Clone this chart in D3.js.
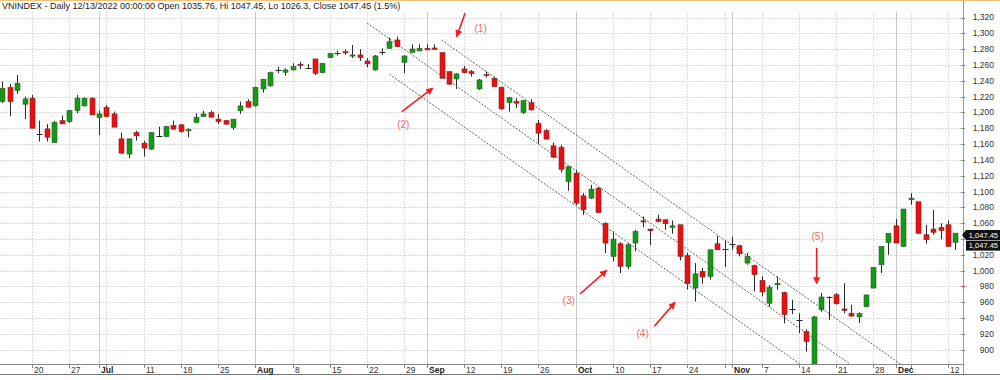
<!DOCTYPE html>
<html><head><meta charset="utf-8">
<script src="https://cdn.jsdelivr.net/npm/d3@7"></script>
<style>body{margin:0;background:#fff}svg{display:block;font-family:"Liberation Sans",Arial,sans-serif}</style>
</head><body><svg id="c" width="1000" height="380"></svg>
<script>
const title = "VNINDEX - Daily 12/13/2022 00:00:00 Open 1035.76, Hi 1047.45, Lo 1026.3, Close 1047.45 (1.5%)";
const dates = [
"06-14","06-15","06-16","06-17","06-20","06-21","06-22","06-23","06-24","06-27","06-28","06-29","06-30",
"07-01","07-04","07-05","07-06","07-07","07-08","07-11","07-12","07-13","07-14","07-15","07-18","07-19","07-20","07-21","07-22","07-25","07-26","07-27","07-28","07-29",
"08-01","08-02","08-03","08-04","08-05","08-08","08-09","08-10","08-11","08-12","08-15","08-16","08-17","08-18","08-19","08-22","08-23","08-24","08-25","08-26","08-29","08-30","08-31",
"09-05","09-06","09-07","09-08","09-09","09-12","09-13","09-14","09-15","09-16","09-19","09-20","09-21","09-22","09-23","09-26","09-27","09-28","09-29","09-30",
"10-03","10-04","10-05","10-06","10-07","10-10","10-11","10-12","10-13","10-14","10-17","10-18","10-19","10-20","10-21","10-24","10-25","10-26","10-27","10-28","10-31",
"11-01","11-02","11-03","11-04","11-07","11-08","11-09","11-10","11-11","11-14","11-15","11-16","11-17","11-18","11-21","11-22","11-23","11-24","11-25","11-28","11-29","11-30",
"12-01","12-02","12-05","12-06","12-07","12-08","12-09","12-12","12-13"];
const open = [1213.7,1231.4,1227.6,1210.4,1218,1173,1179.2,1161.9,1189.7,1188.4,1202.3,1208.3,1218,
1193.5,1206.6,1198.2,1166.6,1147.3,1174.5,1161.2,1153.6,1170.4,1169.5,1183.4,1184.3,1176.7,1187.2,1194.8,1199.8,1191.5,1189.7,1180.9,1202,1213.7,
1208.3,1229.7,1233.5,1253.7,1250.8,1253.7,1260.9,1256.6,1267.6,1250.3,1269.3,1274.8,1276.8,1271.4,1272.7,1265,1253.7,1276.8,1281,1291.6,1263.4,1276,1277.7,
1281,1281.5,1275.6,1251.6,1242.3,1255,1251.6,1229.7,1248,1243.2,1231.9,1212.4,1213.7,1199.8,1212.4,1186.4,1177.1,1157.8,1156.1,1112.6,
1123.3,1094.6,1091.7,1104.3,1060,1017.9,1034,1005.4,1034.9,1063,1052.6,1065.2,1064.3,1054.6,1058,1018.9,978,999,992.7,1034,1027.3,
1033.6,1031.5,1009.6,1006.3,987.7,958.8,982.2,972.2,951.6,937.7,923,875,950.7,966.7,969.6,951.6,946,941.5,954.5,978,1007.5,1035.5,
1056.7,1030.6,1089.6,1087.1,1045.4,1052.6,1054.8,1058,1035.76];
const high = [1239,1236,1247.4,1220,1222,1189.7,1185.2,1189,1196,1203.2,1222.1,1219.2,1219.2,
1202.3,1209.5,1201,1174.5,1166.6,1176.7,1164.4,1175,1182.1,1183,1189.7,1185.2,1180,1199,1202,1202.3,1198.2,1190.6,1191.5,1213.7,1216.7,
1232.3,1242,1251.6,1257.9,1255.9,1262.2,1264.2,1261,1267.6,1262.2,1275.2,1278,1279.9,1285.3,1279.9,1268.5,1272.7,1281,1294.6,1295.8,1272,1286,1286.2,
1286.2,1286,1275.6,1251.6,1249.5,1258.8,1253.7,1242.3,1251.6,1245.3,1232.6,1219.2,1218,1215.8,1216.7,1190.6,1178.8,1161.9,1159,1131.6,
1127.4,1098,1108.5,1105.6,1060.9,1049.6,1036,1034.9,1051.7,1068.5,1052.6,1070.6,1065,1063.4,1058,1022.7,1009.6,1003.3,1026.4,1044.1,1038,
1043,1032.8,1022.3,1007.5,992.7,981.9,992.6,973.5,963.2,946,926,943,971.8,967.6,971.8,984,956.9,947.3,969.3,1004,1030.6,1047.3,
1065.2,1077.9,1097.8,1087.1,1057.6,1076.6,1059.8,1063.4,1047.45];
const low = [1211.7,1195.6,1223.4,1191.8,1180,1163.2,1163.2,1161.5,1185.5,1186.8,1199,1207.4,1196.9,
1171.6,1194,1181.4,1147.7,1142.2,1164.4,1144.2,1152.7,1169.8,1168.7,1178.8,1174.5,1168.7,1186.4,1194.8,1194,1185.2,1184.3,1178,1198.2,1206.6,
1207.4,1225,1232.6,1249.5,1246.5,1252.8,1254.6,1255,1247.4,1249.5,1268.5,1271.8,1272.7,1268.5,1265,1257.1,1252.8,1272.7,1281,1282.4,1249.5,1276,1277.7,
1279,1279.5,1243.2,1234.8,1229.7,1249.5,1245.3,1228.5,1244,1231.9,1203.2,1201,1205.4,1198.2,1202.3,1160.3,1166.2,1142.2,1124,1101,
1083,1070.6,1090.5,1072.8,1022.3,1011.7,997,1002,1024.3,1055,1032.2,1061,1051.7,1046.7,1012.9,976,961,983.5,988.6,1026.4,1004.6,
1026.4,1018,1007.4,973.8,967.6,954.5,975.9,933.3,945,921,897.8,873,948,937.7,956.9,946,941.7,933.9,953.7,977.6,997,1020,
1034.9,1029.8,1083.3,1047.2,1034,1045.4,1039.6,1030.6,1026.3];
const close = [1230.6,1213.7,1236.9,1217.1,1180,1173,1168.7,1187.7,1185.5,1202.3,1218,1218,1196.9,
1198.2,1194.8,1181.4,1148.5,1166.6,1170.4,1154.9,1174.5,1170.4,1182.1,1178.8,1175.8,1178.4,1194,1198.2,1194,1188.4,1185.2,1191.5,1208.3,1206.6,
1231.9,1242,1250.3,1253.7,1253.7,1257.9,1259.1,1256.6,1249.5,1262.2,1274.8,1274.8,1275.6,1272.7,1269.3,1261.3,1271.4,1276.8,1289.4,1283.1,1271.4,1280.2,1281,
1279,1279.8,1243.2,1235.7,1248.7,1250.3,1249,1241.1,1246.5,1232.6,1204.5,1218.7,1211.7,1215,1203.2,1173.8,1166.2,1143.5,1128,1131.6,
1085.4,1077,1103.1,1073.5,1034.9,1039.9,1005.4,1032.8,1049.6,1061.5,1050.4,1062.2,1059.3,1056.7,1018,983.5,996,992,1026.4,1026.4,1027.3,
1033.6,1021.4,1018,995,973,979,984,944.4,951.6,937.7,910.5,941.5,966.7,966.7,958.2,949.5,942.6,945.6,969.3,1004,1030.6,1047.3,
1034.9,1077.9,1091.7,1047.2,1039.1,1048.5,1050.6,1030.6,1047.45];
const yTicks = [900,920,940,960,980,1000,1020,1040,1060,1080,1100,1120,1140,1160,1180,1200,1220,1240,1260,1280,1300,1320];
const weekTickDates = ["06-20","06-27","07-04","07-11","07-18","07-25","08-01","08-08","08-15","08-22","08-29","09-05","09-12","09-19","09-26","10-03","10-10","10-17","10-24","10-31","11-07","11-14","11-21","11-28","12-05","12-12"];
const weekTickLabels = ["20","27","","11","18","25","","8","15","22","29","","12","19","26","","10","17","24","","7","14","21","28","","12"];
const monthTickDates = ["07-01","08-01","09-05","10-03","11-01","12-01"];
const monthTickLabels = ["Jul","Aug","Sep","Oct","Nov","Dec"];
const lastPrice = 1047.45;
const lastPriceLabels = ["1,047.45","1,047.45"];
// channel lines
const channelStartIdx = [59, 49, 52];
const channelStartVal = [1291.6, 1313, 1248.3];
const channelEndIdx = [123, 115, 108];
const channelEndVal = [866.1, 874.2, 876.0];
// annotations
const annoText = ["(1)","(2)","(3)","(4)","(5)"];
const annoLabelIdx = [64.25, 53.86, 76.07, 86.0, 109.5];
const annoLabelVal = [1305.5, 1185.2, 962.7, 920.4, 1043.2];
const arrowFromIdx = [62.15, 53.65, 77.59, 87.57, 109.37];
const arrowFromVal = [1325.3, 1201.1, 970.5, 929.6, 1028.6];
const arrowToIdx = [61.03, 57.81, 81.17, 90.35, 109.37];
const arrowToVal = [1295.8, 1230.6, 1000.3, 959.9, 983.5];

const W = 1000, H = 380, plotR = 963, plotB = 364;
const svg = d3.select("#c");
const x = d3.scalePoint().domain(dates).range([2.2, 955.4]);
const xi = d3.scaleLinear().domain([0, dates.length - 1]).range([2.2, 955.4]);
const y = d3.scaleLinear().domain([882, 1320]).range([plotB, 17.5]);

svg.append("rect").attr("width", W).attr("height", H).attr("fill", "#fff");
svg.append("defs").append("clipPath").attr("id", "clip").append("rect")
  .attr("x", 0).attr("y", 0).attr("width", plotR).attr("height", plotB);
svg.select("defs").append("marker").attr("id", "ah").attr("viewBox", "0 0 10 10")
  .attr("refX", 9).attr("refY", 5).attr("markerWidth", 4.5).attr("markerHeight", 4.5)
  .attr("orient", "auto").append("path").attr("d", "M0,0L10,5L0,10z").attr("fill", "#f41c1c");

// grid
const grid = svg.append("g");
grid.selectAll(".hg").data(yTicks).join("line")
  .attr("x1", 0).attr("x2", plotR).attr("y1", d => Math.round(y(d)) + 0.5).attr("y2", d => Math.round(y(d)) + 0.5)
  .attr("stroke", "#dcdcdc").attr("stroke-dasharray", "2,1");
grid.selectAll(".wg").data(weekTickDates).join("line")
  .attr("x1", d => Math.round(x(d)) + 0.5).attr("x2", d => Math.round(x(d)) + 0.5)
  .attr("y1", 12).attr("y2", plotB)
  .attr("stroke", "#dedede").attr("stroke-dasharray", "2,1");
grid.selectAll(".mg").data(monthTickDates).join("line")
  .attr("x1", d => Math.round(x(d)) + 0.5).attr("x2", d => Math.round(x(d)) + 0.5)
  .attr("y1", 12).attr("y2", plotB)
  .attr("stroke", "#c8c8c8");

// title
svg.append("text").attr("x", 2).attr("y", 9).attr("font-size", 9).attr("fill", "#222").text(title);

// candles
const plot = svg.append("g").attr("clip-path", "url(#clip)");
const idx = d3.range(dates.length);
plot.selectAll(".wick").data(idx).join("line")
  .attr("x1", i => Math.round(x(dates[i])) + 0.5).attr("x2", i => Math.round(x(dates[i])) + 0.5)
  .attr("y1", i => y(high[i])).attr("y2", i => y(low[i]))
  .attr("stroke", "#2a2a2a").attr("stroke-width", 1);
plot.selectAll(".body").data(idx.filter(i => open[i] !== close[i])).join("rect")
  .attr("x", i => Math.round(x(dates[i])) - 2)
  .attr("width", 5)
  .attr("y", i => y(Math.max(open[i], close[i])))
  .attr("height", i => Math.max(1.2, Math.abs(y(open[i]) - y(close[i]))))
  .attr("fill", i => close[i] > open[i] ? "#129a12" : "#f20d0d")
  .attr("stroke", i => close[i] > open[i] ? "#2f5f2f" : "#7a2a2a")
  .attr("stroke-width", 0.6);
plot.selectAll(".doji").data(idx.filter(i => open[i] === close[i])).join("line")
  .attr("x1", i => Math.round(x(dates[i])) - 2.5).attr("x2", i => Math.round(x(dates[i])) + 3.5)
  .attr("y1", i => Math.round(y(open[i])) + 0.5).attr("y2", i => Math.round(y(open[i])) + 0.5)
  .attr("stroke", "#222").attr("stroke-width", 1);

// channel lines
plot.selectAll(".ch").data(channelStartIdx).join("line")
  .attr("x1", (d, k) => xi(channelStartIdx[k])).attr("y1", (d, k) => y(channelStartVal[k]))
  .attr("x2", (d, k) => xi(channelEndIdx[k])).attr("y2", (d, k) => y(channelEndVal[k]))
  .attr("stroke", "#555").attr("stroke-width", 0.9).attr("stroke-dasharray", "2,1.5");

// annotations
svg.selectAll(".arr").data(arrowFromIdx).join("line")
  .attr("x1", (d, k) => xi(arrowFromIdx[k])).attr("y1", (d, k) => y(arrowFromVal[k]))
  .attr("x2", (d, k) => xi(arrowToIdx[k])).attr("y2", (d, k) => y(arrowToVal[k]))
  .attr("stroke", "#f41c1c").attr("stroke-width", 1.6).attr("marker-end", "url(#ah)");
svg.selectAll(".al").data(annoText).join("text")
  .attr("x", (d, k) => xi(annoLabelIdx[k])).attr("y", (d, k) => y(annoLabelVal[k]))
  .attr("dy", "0.35em").attr("text-anchor", "middle").attr("font-size", 10)
  .attr("fill", "#f26a6a").text(d => d);

// x axis
svg.append("line").attr("x1", 0).attr("x2", plotR).attr("y1", plotB + 0.5).attr("y2", plotB + 0.5).attr("stroke", "#888");
svg.append("line").attr("x1", 0).attr("x2", W).attr("y1", 374.5).attr("y2", 374.5).attr("stroke", "#777");
const allTickDates = weekTickDates.concat(monthTickDates);
svg.selectAll(".xt").data(allTickDates).join("line")
  .attr("x1", d => Math.round(x(d)) + 0.5).attr("x2", d => Math.round(x(d)) + 0.5)
  .attr("y1", plotB).attr("y2", plotB + 4).attr("stroke", "#888");
svg.selectAll(".xl").data(weekTickDates).join("text")
  .attr("x", d => Math.round(x(d)) + 2).attr("y", 372.5)
  .attr("font-size", 8.5).attr("fill", "#333").text((d, k) => weekTickLabels[k]);
svg.selectAll(".ml").data(monthTickDates).join("text")
  .attr("x", d => Math.round(x(d)) + 2).attr("y", 372.5)
  .attr("font-size", 8.5).attr("font-weight", "bold").attr("fill", "#222").text((d, k) => monthTickLabels[k]);

// y axis (right)
const yc = y(lastPrice) + 2;
svg.append("line").attr("x1", plotR + 0.5).attr("x2", plotR + 0.5).attr("y1", 0).attr("y2", 374).attr("stroke", "#999");
svg.selectAll(".yt").data(yTicks).join("line")
  .attr("x1", plotR - 2).attr("x2", plotR + 2)
  .attr("y1", d => Math.round(y(d)) + 0.5).attr("y2", d => Math.round(y(d)) + 0.5)
  .attr("stroke", d => d === 980 ? "#e03030" : "#888");
// labels hidden behind the last-price box are not drawn (as in the reference)
svg.selectAll(".yl").data(yTicks.filter(d => Math.abs(y(d) - (yc + 5)) > 14)).join("text")
  .attr("x", 994).attr("y", d => y(d)).attr("dy", "0.35em")
  .attr("text-anchor", "end").attr("font-size", 8.5).attr("fill", "#333")
  .text(d => d3.format(",")(d));

// last price boxes
svg.append("path").attr("d", `M${plotR - 1},${yc} L${plotR + 3},${yc - 5} L${W},${yc - 5} L${W},${yc + 5} L${plotR + 3},${yc + 5} Z`).attr("fill", "#111");
svg.append("rect").attr("x", plotR + 3).attr("y", yc + 5.5).attr("width", W - plotR - 3).attr("height", 10).attr("fill", "#111");
svg.selectAll(".lp").data(lastPriceLabels).join("text")
  .attr("x", 998).attr("y", (d, k) => yc + k * 10.5).attr("dy", "0.35em")
  .attr("text-anchor", "end").attr("font-size", 7.5).attr("fill", "#fff").text(d => d);

// top border
svg.append("line").attr("x1", 0).attr("x2", W).attr("y1", 0.5).attr("y2", 0.5).attr("stroke", "#f2c27a");
</script></body></html>
